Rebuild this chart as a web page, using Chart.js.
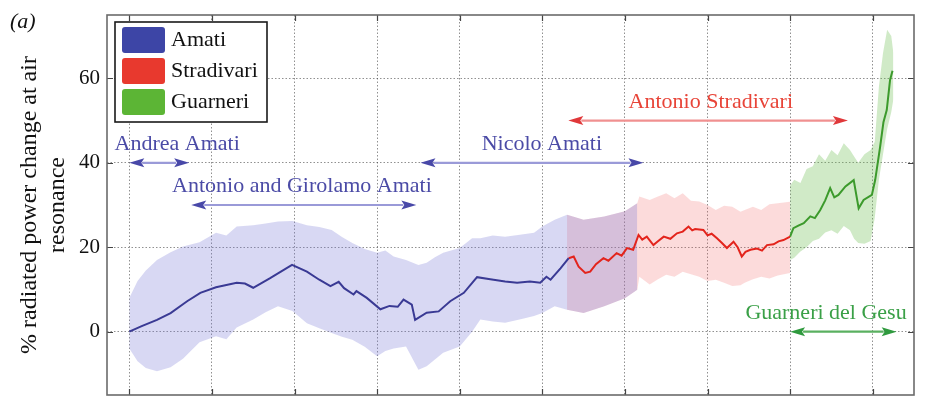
<!DOCTYPE html>
<html>
<head>
<meta charset="utf-8">
<script src="https://cdn.jsdelivr.net/npm/chart.js@4.4.1/dist/chart.umd.min.js"></script>
<style>
  html, body { margin: 0; padding: 0; background: #fff; }
  #wrap { width: 925px; height: 398px; position: relative; }
</style>
</head>
<body>
<div id="wrap"><canvas id="c" width="925" height="398"></canvas></div>
<script>
// ---- data: mean radiated power change (%) by year of making, with spread bands ----
const seriesNames = ['Amati', 'Stradivari', 'Guarneri'];

const amatiYears = [1560,1563,1566.7,1570,1574,1577.2,1581,1586,1588,1590,1594,1599.4,1603,1606,1608.7,1610.7,1612,1614.3,1615,1617.5,1620.8,1623,1625,1626.4,1628.4,1629.2,1632,1634.9,1637.7,1641,1644.2,1647.4,1651,1653.9,1657,1659.5,1661,1662,1664.4,1666.4];
const amatiMean  = [0,1.3,2.8,4.4,7.2,9.2,10.5,11.6,11.4,10.4,12.6,15.8,14.2,12.3,10.8,11.8,10.3,8.8,9.6,8.0,5.3,6.1,5.9,7.6,6.4,2.8,4.5,4.8,7.2,9.2,12.9,12.4,11.9,11.6,11.9,11.6,13.0,12.3,15.0,17.4];

const stradYears = [1666.4,1667.6,1668.8,1670.4,1671.6,1673,1674.8,1676,1678,1679.2,1680.5,1682,1683.3,1684.2,1685.3,1686.9,1688,1689.4,1691,1692.6,1694,1695.4,1696.3,1697,1699,1700,1701,1702.3,1703.5,1704.7,1706.3,1707.3,1708.3,1709.2,1710.4,1712,1713.2,1714.4,1716,1717.2,1718.4,1720];
const stradMean  = [17.4,17.8,15.4,13.9,14.2,16.0,17.4,16.8,18.6,18.0,19.8,19.4,22.9,21.8,22.5,20.5,21.4,22.5,22.0,23.3,23.7,24.9,24.0,24.3,24.1,22.8,23.2,22.1,21.0,19.8,21.3,20.0,17.8,18.9,19.4,19.7,19.2,20.5,20.7,21.4,21.7,22.5];

const guarnYears = [1720,1720.8,1722,1723.3,1724.9,1726,1727.3,1728.5,1729.7,1730.7,1731.7,1733.4,1735.4,1736.6,1737.8,1739.8,1740.6,1741.8,1742.6,1743.4,1744.2,1744.8];
const guarnMean  = [22.5,24.5,25.1,25.7,27.3,26.9,28.8,31.1,34.0,31.8,32.4,34.4,35.9,29.2,31.2,32.4,35.9,43.8,49.6,52.5,59.6,61.8];

const amatiBandYears = [1560,1562,1564,1566.7,1570,1573,1577,1581,1583.5,1586,1590,1593,1596,1599.5,1603,1606,1609,1611.5,1614,1617,1620,1622,1624,1627,1630,1632,1634,1636,1640,1643,1645,1648,1651,1655,1658,1660,1663,1666,1670,1675,1680,1683];
const amatiUpper = [8,12,14.5,17,18.8,20.2,21.2,23.4,22.8,24.9,25.2,25.6,26.1,26.2,25.2,24.8,24.1,22.4,21.0,19.6,18.7,19.2,17.8,17.0,15.8,16.3,17.6,18.7,19.8,22.1,22.1,22.8,22.5,23.0,23.4,24.9,26.5,27.7,26.5,27.3,28.5,30.4];
const amatiLower = [-4,-7,-8.6,-9.4,-8.4,-6.4,-2.5,-1.1,-1.8,1,2.9,4.6,6.0,4.9,2.0,0.8,-0.3,-1.2,-1.9,-3.6,-5.8,-4.6,-4.0,-3.5,-9.0,-8.2,-6.6,-5.0,-3.5,0,2.9,2.4,2.1,3.0,3.7,4.4,6.0,5.2,4.4,6.0,7.9,9.9];

const stradBandYears = [1666,1670,1675,1680,1683,1683.5,1686,1688,1690,1692,1694,1696,1698,1700,1702,1704,1706,1708,1709,1711,1713,1715,1717,1720];
const stradUpper = [27.7,26.5,27.3,28.5,30.4,32.0,31.2,32.0,32.8,31.6,32.8,31.0,30.8,30.0,28.8,29.8,29.6,28.4,28.8,29.6,28.8,30.2,30.4,30.8];
const stradLower = [5.2,4.4,6.0,7.9,9.9,13.0,11.2,12.4,13.5,13.0,14.2,13.6,13.0,12.0,12.3,11.6,10.8,11.0,11.6,12.4,13.0,12.6,13.3,13.9];

const guarnBandYears = [1720,1721,1722.5,1724,1725.5,1727,1728.5,1730,1731.5,1733,1734.5,1735.5,1736.5,1738,1739.5,1740.5,1741.5,1742.5,1743.5,1744.5,1745];
const guarnUpper = [34.6,36,35.2,38.5,39.2,42,40.5,43,41.8,44.6,43,41.5,40,42,43,45,58,66,71.5,70,66];
const guarnLower = [17,17.5,19,20,21.5,22,23.5,24,23.2,25,24,22,21,20.8,21.5,27,36,42,48,52,55];

const yTicks = [0, 20, 40, 60];
const xGridYears = [1560,1580,1600,1620,1640,1660,1680,1700,1720,1740];

// maker periods drawn as double-headed arrows
const makerSpans = [
  { text: 'Andrea Amati',               from: 1560,   to: 1574.5, level: 40, labelAt: 1571.6, group: 0 },
  { text: 'Antonio and Girolamo Amati', from: 1575,   to: 1629.5, level: 30, labelAt: 1601.8, group: 0 },
  { text: 'Nicolo Amati',               from: 1630.5, to: 1684.5, level: 40, labelAt: 1659.9, group: 0 },
  { text: 'Antonio Stradivari',         from: 1666.3, to: 1734,   level: 50, labelAt: 1700.8, group: 1 },
  { text: 'Guarneri del Gesu',          from: 1720,   to: 1745.8, level: 0,  labelAt: 1728.7, group: 2 }
];

// ---- styling ----
const palette = [
  { line: '#3a3a94', band: 'rgba(120,120,215,0.29)', swatch: '#3d45a6', text: '#4b4ba6', shaft: '#9a9ad8', head: '#4848a8' },
  { line: '#e3241c', band: 'rgba(240,90,90,0.22)',   swatch: '#e8392e', text: '#e84438', shaft: '#f09090', head: '#e0383a' },
  { line: '#3c9a2c', band: 'rgba(110,190,80,0.32)',  swatch: '#5cb535', text: '#3aa047', shaft: '#5ab060', head: '#2f9a3e' }
];
const SERIF = "'Liberation Serif', 'Times New Roman', serif";

const pts = (xs, ys) => xs.map((x, i) => ({ x, y: ys[i] }));

function bandPair(xs, hi, lo, color) {
  return [
    { data: pts(xs, hi), borderWidth: 0, pointRadius: 0, fill: '+1', backgroundColor: color, tension: 0 },
    { data: pts(xs, lo), borderWidth: 0, pointRadius: 0, fill: false, tension: 0 }
  ];
}
function meanLine(xs, ys, color) {
  return { data: pts(xs, ys), borderColor: color, borderWidth: 2, pointRadius: 0, fill: false, tension: 0 };
}

const datasets = [
  ...bandPair(amatiBandYears, amatiUpper, amatiLower, palette[0].band),
  ...bandPair(stradBandYears, stradUpper, stradLower, palette[1].band),
  ...bandPair(guarnBandYears, guarnUpper, guarnLower, palette[2].band),
  meanLine(amatiYears, amatiMean, palette[0].line),
  meanLine(stradYears, stradMean, palette[1].line),
  meanLine(guarnYears, guarnMean, palette[2].line)
];

// frame, inward ticks, maker arrows, legend and panel letter
const decorations = {
  id: 'decorations',
  afterDraw(chart) {
    const { ctx, chartArea: a, scales: { x, y } } = chart;
    ctx.save();

    // inward tick marks
    ctx.strokeStyle = '#444';
    ctx.lineWidth = 1.2;
    ctx.beginPath();
    xGridYears.forEach(v => {
      const px = Math.round(x.getPixelForValue(v)) + 0.5;
      ctx.moveTo(px, a.bottom); ctx.lineTo(px, a.bottom - 6);
      ctx.moveTo(px, a.top); ctx.lineTo(px, a.top + 6);
    });
    yTicks.forEach(v => {
      const py = Math.round(y.getPixelForValue(v)) + 0.5;
      ctx.moveTo(a.left, py); ctx.lineTo(a.left + 6, py);
      ctx.moveTo(a.right, py); ctx.lineTo(a.right - 6, py);
    });
    ctx.stroke();

    // maker periods
    makerSpans.forEach(s => {
      const c = palette[s.group];
      const x1 = x.getPixelForValue(s.from), x2 = x.getPixelForValue(s.to);
      const py = y.getPixelForValue(s.level);
      const hl = 15, hw = 4.5;
      ctx.strokeStyle = c.shaft;
      ctx.lineWidth = 2.2;
      ctx.beginPath(); ctx.moveTo(x1 + hl - 2, py); ctx.lineTo(x2 - hl + 2, py); ctx.stroke();
      ctx.fillStyle = c.head;
      ctx.beginPath(); ctx.moveTo(x1, py); ctx.lineTo(x1 + hl, py - hw); ctx.lineTo(x1 + hl - 3, py); ctx.lineTo(x1 + hl, py + hw); ctx.closePath(); ctx.fill();
      ctx.beginPath(); ctx.moveTo(x2, py); ctx.lineTo(x2 - hl, py - hw); ctx.lineTo(x2 - hl + 3, py); ctx.lineTo(x2 - hl, py + hw); ctx.closePath(); ctx.fill();
      ctx.fillStyle = c.text;
      ctx.font = '22px ' + SERIF;
      ctx.textAlign = 'center';
      ctx.textBaseline = 'alphabetic';
      ctx.fillText(s.text, x.getPixelForValue(s.labelAt), py - 13);
    });

    // frame
    ctx.strokeStyle = '#6b6b6b';
    ctx.lineWidth = 1.6;
    ctx.strokeRect(a.left, a.top, a.right - a.left, a.bottom - a.top);

    // legend
    const lx = a.left + 8, ly = a.top + 7, lw = 152, lh = 100;
    ctx.fillStyle = '#fff';
    ctx.fillRect(lx, ly, lw, lh);
    ctx.strokeStyle = '#1a1a1a';
    ctx.lineWidth = 1.6;
    ctx.strokeRect(lx, ly, lw, lh);
    ctx.font = '22px ' + SERIF;
    ctx.textAlign = 'left';
    ctx.textBaseline = 'middle';
    seriesNames.forEach((name, i) => {
      const sy = ly + 5 + i * 31;
      ctx.fillStyle = palette[i].swatch;
      ctx.beginPath();
      ctx.roundRect(lx + 7, sy, 43, 26, 3);
      ctx.fill();
      ctx.fillStyle = '#111';
      ctx.fillText(name, lx + 56, sy + 13);
    });

    // panel letter
    ctx.font = 'italic 22px ' + SERIF;
    ctx.fillStyle = '#111';
    ctx.textBaseline = 'alphabetic';
    ctx.fillText('(a)', 10, 28);
    ctx.restore();
  }
};

// keep the plot box fixed: no extra room reserved for edge tick labels
const noEdgePadding = s => { s.paddingTop = 0; s.paddingBottom = 0; s.paddingLeft = 0; s.paddingRight = 0; };

new Chart(document.getElementById('c'), {
  type: 'line',
  data: { datasets },
  options: {
    responsive: false,
    animation: false,
    devicePixelRatio: 1,
    layout: { padding: { top: 15, right: 11, left: 0, bottom: 0 } },
    plugins: {
      legend: { display: false },
      tooltip: { enabled: false },
      filler: { drawTime: 'beforeDatasetsDraw' }
    },
    scales: {
      x: {
        type: 'linear',
        min: 1554.6,
        max: 1750,
        afterBuildTicks: s => { s.ticks = xGridYears.map(v => ({ value: v })); },
        afterFit: s => { s.height = 3; noEdgePadding(s); },
        ticks: { display: false },
        grid: { color: 'rgba(70,70,70,0.6)', lineWidth: 1, drawTicks: false },
        border: { display: false, dash: [1.5, 2] }
      },
      y: {
        type: 'linear',
        min: -15,
        max: 75,
        afterBuildTicks: s => { s.ticks = yTicks.map(v => ({ value: v })); },
        afterFit: s => { s.width = 107; noEdgePadding(s); },
        ticks: { padding: 7, color: '#111', font: { family: SERIF, size: 21 } },
        grid: { color: 'rgba(70,70,70,0.6)', lineWidth: 1, drawTicks: false },
        border: { display: false, dash: [1.5, 2] },
        title: {
          display: true,
          text: ['% radiated power change at air', 'resonance'],
          color: '#111',
          font: { family: SERIF, size: 24, lineHeight: 1.15 },
          padding: { top: 16, bottom: 0 }
        }
      }
    }
  },
  plugins: [decorations]
});
</script>
</body>
</html>
